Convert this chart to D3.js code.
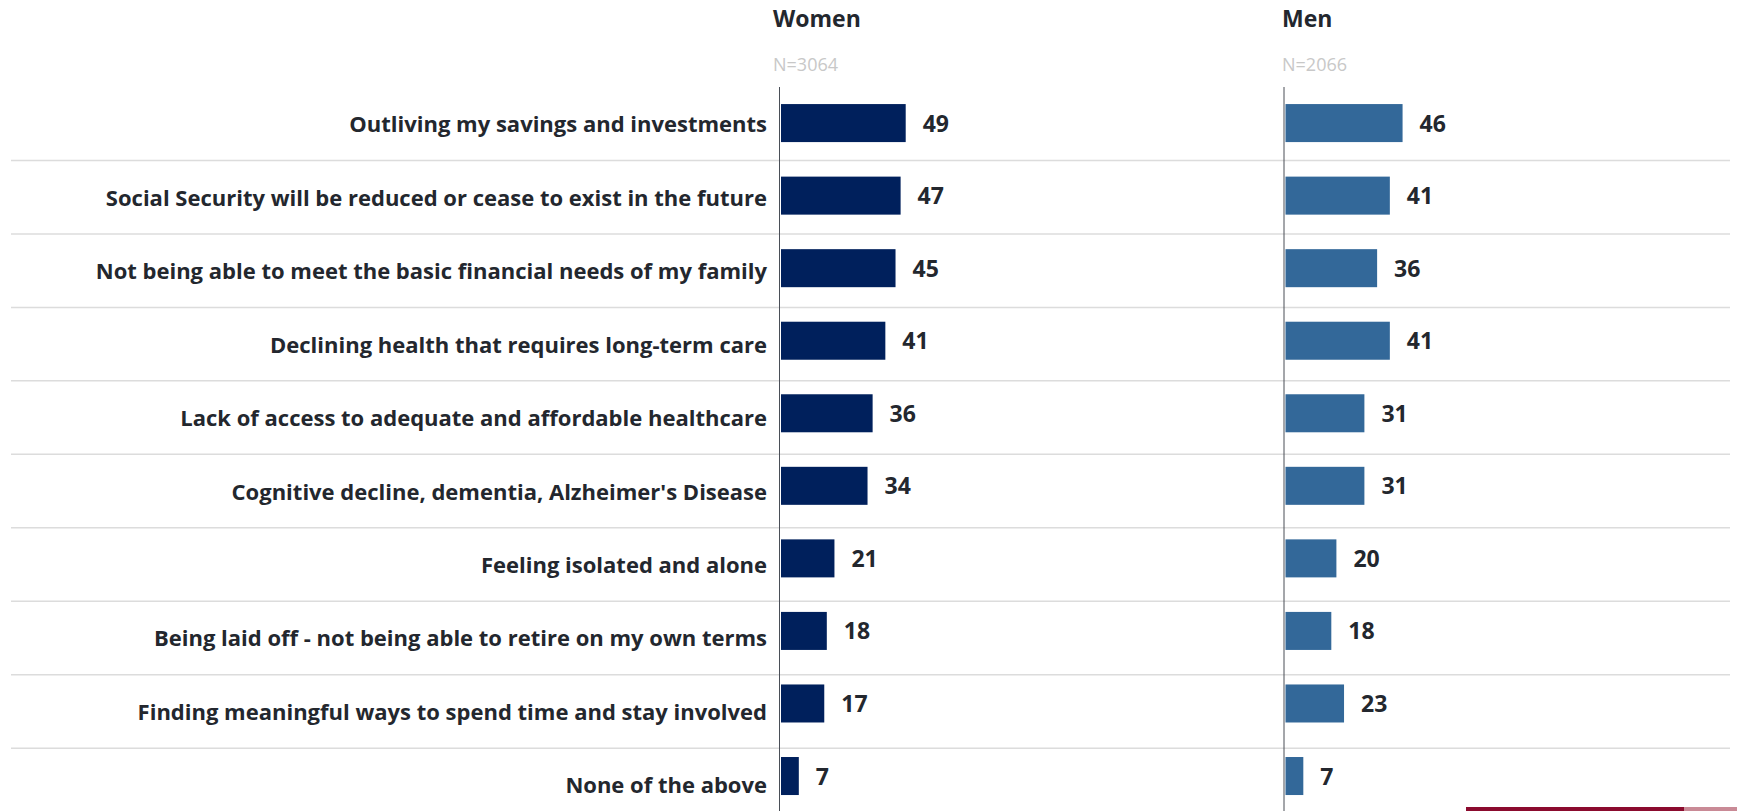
<!DOCTYPE html>
<html>
<head>
<meta charset="utf-8">
<script src="https://cdn.jsdelivr.net/npm/d3@7/dist/d3.min.js"></script>
<style>
  html, body { margin: 0; padding: 0; background: #ffffff; }
  svg { display: block; }
  text { font-family: "Open Sans", "Noto Sans", sans-serif; }
</style>
</head>
<body>
<svg id="chart" width="1737" height="811"></svg>
<script>
// Retirement worries, share of respondents (%)
const categories = [
  "Outliving my savings and investments",
  "Social Security will be reduced or cease to exist in the future",
  "Not being able to meet the basic financial needs of my family",
  "Declining health that requires long-term care",
  "Lack of access to adequate and affordable healthcare",
  "Cognitive decline, dementia, Alzheimer's Disease",
  "Feeling isolated and alone",
  "Being laid off - not being able to retire on my own terms",
  "Finding meaningful ways to spend time and stay involved",
  "None of the above"
];
const womenValues = [49, 47, 45, 41, 36, 34, 21, 18, 17, 7];
const menValues   = [46, 41, 36, 41, 31, 31, 20, 18, 23, 7];
const panelTitles = ["Women", "Men"];
const sampleSizes = ["N=3064", "N=2066"];

const W = 1737, H = 811;
const svg = d3.select("#chart");
const textColor = "#23272e";

// Row bands for labels and separators
const rowScale = d3.scaleBand().domain(categories).range([87, 87 + 73.46 * categories.length]);
// Bar bands
const barScale = d3.scaleBand().domain(categories).range([86.8, 86.8 + 72.55 * categories.length])
  .paddingInner(0.476).paddingOuter(0.238);

// Separators between rows
svg.append("g").selectAll("line")
  .data(categories.slice(1))
  .join("line")
  .attr("x1", 11).attr("x2", 1730)
  .attr("y1", d => rowScale(d)).attr("y2", d => rowScale(d))
  .attr("stroke", "#dcdcdc").attr("stroke-width", 1.5);

// Category labels
svg.append("g").selectAll("text")
  .data(categories)
  .join("text")
  .attr("x", 767)
  .attr("y", d => rowScale(d) + rowScale.bandwidth() / 2 + 8.5)
  .attr("text-anchor", "end")
  .attr("font-size", 22)
  .attr("font-weight", 700)
  .attr("fill", textColor)
  .text(d => d);

const panels = [
  { title: panelTitles[0], n: sampleSizes[0], values: womenValues, x0: 781, axisX: 779.5, titleX: 773, color: "#00205c" },
  { title: panelTitles[1], n: sampleSizes[1], values: menValues,   x0: 1285.5, axisX: 1284, titleX: 1282, color: "#336899" }
];

panels.forEach(p => {
  const x = d3.scaleLinear().domain([0, 100]).range([p.x0, p.x0 + 254.5]);
  const g = svg.append("g");

  g.append("text")
    .attr("x", p.titleX).attr("y", 26.5)
    .attr("font-size", 23).attr("font-weight", 700)
    .attr("fill", textColor)
    .text(p.title);

  g.append("text")
    .attr("x", p.titleX).attr("y", 70.5)
    .attr("font-size", 18)
    .attr("fill", "#c8c8c8")
    .text(p.n);

  g.selectAll("rect")
    .data(p.values)
    .join("rect")
    .attr("x", x(0))
    .attr("y", (d, i) => barScale(categories[i]))
    .attr("width", d => x(d) - x(0))
    .attr("height", barScale.bandwidth())
    .attr("fill", p.color);

  g.selectAll("text.value")
    .data(p.values)
    .join("text")
    .attr("class", "value")
    .attr("x", d => x(d) + 17)
    .attr("y", (d, i) => barScale(categories[i]) + barScale.bandwidth() / 2 + 8.5)
    .attr("font-size", 23).attr("font-weight", 700)
    .attr("fill", textColor)
    .text(d => d);

  // Baseline axis
  g.append("line")
    .attr("x1", p.axisX).attr("x2", p.axisX)
    .attr("y1", 87).attr("y2", H)
    .attr("stroke", "#4a4f57").attr("stroke-width", 1);
});

// Footer accent strip
svg.append("rect").attr("x", 1466).attr("y", 807).attr("width", 218).attr("height", 4).attr("fill", "#8b0b2e");
svg.append("rect").attr("x", 1684).attr("y", 807).attr("width", 53).attr("height", 4).attr("fill", "#c98a96");
</script>
</body>
</html>
